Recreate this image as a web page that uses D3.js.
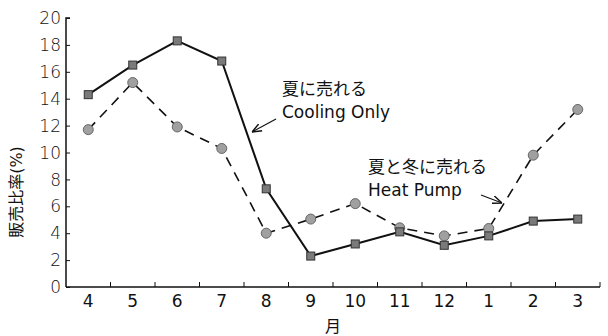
<!DOCTYPE html>
<html><head><meta charset="utf-8">
<script src="https://cdn.jsdelivr.net/npm/d3@7"></script>
<style>
body{margin:0;background:#fff;}
svg{display:block;}
text{font-family:"DejaVu Sans","Noto Sans CJK JP",sans-serif;fill:#111;}
</style></head>
<body>
<svg id="c" width="608" height="336"></svg>
<script>
const months = ["4","5","6","7","8","9","10","11","12","1","2","3"];
const coolingOnly = [14.3,16.5,18.3,16.8,7.3,2.3,3.2,4.1,3.1,3.8,4.9,5.05];
const heatPump = [11.7,15.2,11.9,10.3,4.0,5.05,6.2,4.4,3.8,4.35,9.8,13.2];
const yTicks = [0,2,4,6,8,10,12,14,16,18,20];

const svg = d3.select("#c");
const x = d3.scaleBand().domain(months).range([66,600]);
const y = d3.scaleLinear().domain([0,20]).range([287,18]);
const cx = m => x(m) + x.bandwidth()/2;

// y axis
const gy = svg.append("g").attr("transform","translate(66,0)")
  .call(d3.axisRight(y).tickValues(yTicks).tickSize(4).tickFormat(""));
gy.select(".domain").attr("stroke","#111").attr("stroke-width",1.5).attr("d","M4,18H0V287");
gy.selectAll(".tick line").attr("stroke","#111");
svg.append("g").selectAll("text").data(yTicks).join("text")
  .attr("x",61).attr("y",d=>y(d)).attr("dy","0.36em").attr("text-anchor","end")
  .style("font-size","17px").style("font-weight","300").text(d=>d);

// x axis
const gx = svg.append("g").attr("transform","translate(0,287)");
gx.append("line").attr("x1",66).attr("x2",600).attr("y1",0).attr("y2",0).attr("stroke","#111").attr("stroke-width",1.5);
gx.selectAll("line.t").data(months).join("line").attr("class","t")
  .attr("x1",d=>x(d)+x.bandwidth()).attr("x2",d=>x(d)+x.bandwidth()).attr("y1",0).attr("y2",-5).attr("stroke","#111");
gx.selectAll("text").data(months).join("text")
  .attr("x",d=>cx(d)).attr("y",20).attr("text-anchor","middle")
  .style("font-size","17px").text(d=>d);

svg.append("text").attr("x",333).attr("y",332).attr("text-anchor","middle").style("font-size","16px").text("月");
svg.append("text").attr("transform","translate(22,192) rotate(-90)").attr("text-anchor","middle").style("font-size","16px").text("販売比率(%)");

// lines
const line = d3.line().x((d,i)=>cx(months[i])).y(d=>y(d));
svg.append("path").datum(heatPump).attr("d",line).attr("fill","none").attr("stroke","#111")
  .attr("stroke-width",1.6).attr("stroke-dasharray","10,7");
svg.append("path").datum(coolingOnly).attr("d",line).attr("fill","none").attr("stroke","#111").attr("stroke-width",2);

svg.append("g").selectAll("circle").data(heatPump).join("circle")
  .attr("cx",(d,i)=>cx(months[i])).attr("cy",d=>y(d)).attr("r",5)
  .attr("fill","#a0a0a0").attr("stroke","#666").attr("stroke-width",1);
svg.append("g").selectAll("rect").data(coolingOnly).join("rect")
  .attr("x",(d,i)=>cx(months[i])-4).attr("y",d=>y(d)-4).attr("width",8).attr("height",8)
  .attr("fill","#7a7a7a").attr("stroke","#333").attr("stroke-width",1);

// annotations
svg.append("defs").append("marker").attr("id","ah").attr("viewBox","0 0 10 10").attr("refX",10).attr("refY",5)
  .attr("markerWidth",8).attr("markerHeight",8).attr("orient","auto")
  .append("path").attr("d","M0,1L10,5L0,9").attr("fill","none").attr("stroke","#111").attr("stroke-width",1.5);

svg.append("text").attr("x",282).attr("y",95).style("font-size","17px").text("夏に売れる");
svg.append("text").attr("x",282).attr("y",118).style("font-size","17px").text("Cooling Only");
svg.append("line").attr("x1",276).attr("y1",119).attr("x2",252).attr("y2",132).attr("stroke","#111").attr("stroke-width",1.2).attr("marker-end","url(#ah)");

svg.append("text").attr("x",368).attr("y",173).style("font-size","17px").text("夏と冬に売れる");
svg.append("text").attr("x",368).attr("y",196).style("font-size","17px").text("Heat Pump");
svg.append("line").attr("x1",481).attr("y1",195).attr("x2",502).attr("y2",203).attr("stroke","#111").attr("stroke-width",1.2).attr("marker-end","url(#ah)");
</script>
</body></html>
